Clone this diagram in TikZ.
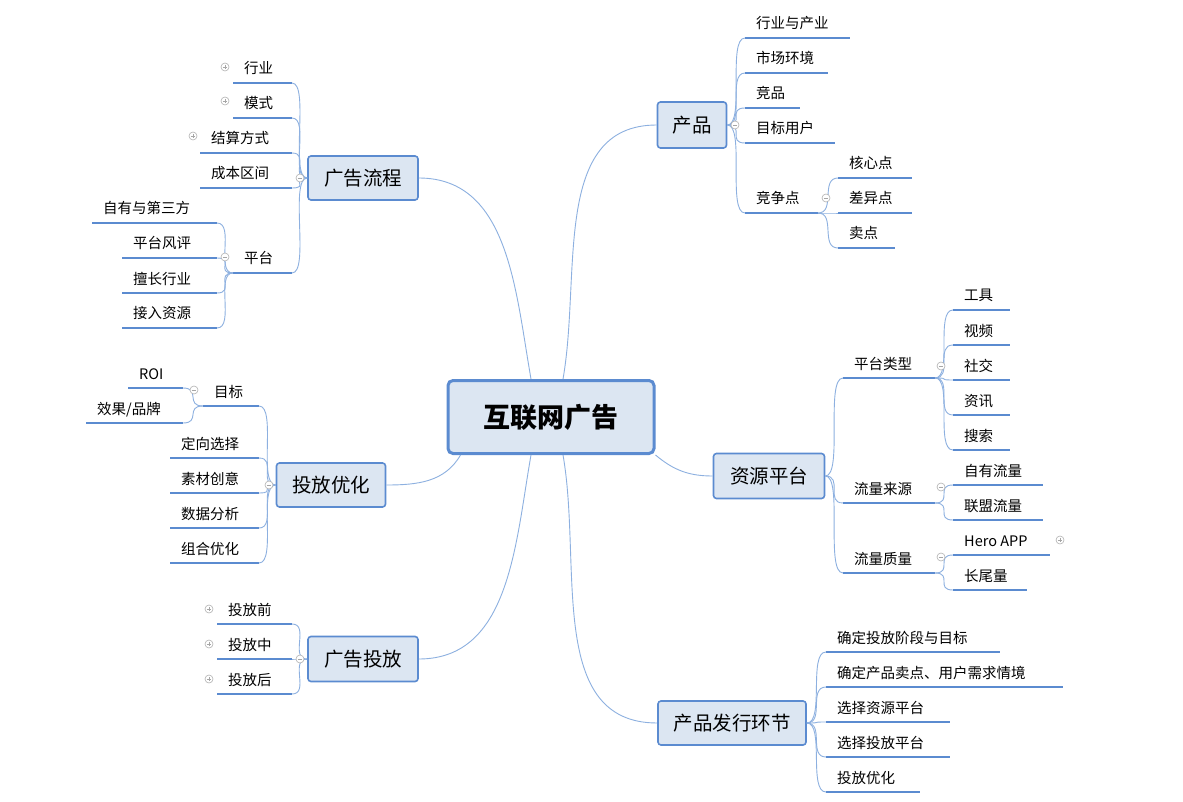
\documentclass[tikz,border=0pt]{standalone}
\usepackage{fontspec}
\setmainfont{Noto Sans CJK SC}
\usetikzlibrary{calc}
\definecolor{mapblue}{HTML}{5B8BD0}
\definecolor{mapfill}{HTML}{DCE6F2}
\definecolor{mapline}{HTML}{8DB0E0}
\tikzset{leafline/.style={mapblue,line width=2.4pt},
         leaftext/.style={inner sep=0pt,font=\fontsize{14.5}{15}\selectfont},
         topic/.style={draw=mapblue,fill=mapfill,rounded corners=3pt,line width=1.6pt,
                       font=\fontsize{19.5}{20}\selectfont,inner sep=0pt},
         conn/.style={mapline,line width=0.9pt},
         marker/.style={circle,draw=gray!60,fill=white,line width=0.6pt,minimum size=8pt,inner sep=0pt}}
% leaf: name, x start, x end, y, text
\newcommand\leaf[5]{%
  \coordinate (#1-s) at (#2,#4); \coordinate (#1-e) at (#3,#4);
  \draw[leafline] (#1-s) -- (#1-e);
  \node[leaftext,anchor=base west] (#1) at (#2+11,#4-9) {#5};}
\newcommand\conR[2]{\draw[conn] (#1) .. controls +(18,0) and +(-18,0) .. (#2);}
\newcommand\conL[2]{\draw[conn] (#1) .. controls +(-18,0) and +(18,0) .. (#2);}
\newcommand\minusmark[2]{\node[marker] at (#1,#2) {}; \draw[gray!70,line width=0.5pt] (#1-2.2,#2) -- (#1+2.2,#2);}
\newcommand\plusmark[2]{\minusmark{#1}{#2}\draw[gray!70,line width=0.5pt] (#1,#2-2.2) -- (#1,#2+2.2);}
\begin{document}
\begin{tikzpicture}[x=1pt,y=-1pt]
  \useasboundingbox[fill=white] (0,0) rectangle (1183,802);
  % centre and topics
  \node[topic,minimum width=206pt,minimum height=73pt,line width=3pt,rounded corners=5pt,
        font=\fontsize{27}{28}\selectfont\bfseries] (root) at (551,417) {互联网广告};
  \node[topic,minimum width=69pt,minimum height=46pt] (prod) at (692,125) {产品};
  \node[topic,minimum width=111pt,minimum height=45pt] (res) at (769,476) {资源平台};
  \node[topic,minimum width=148pt,minimum height=44pt] (pub) at (732,723) {产品发行环节};
  \node[topic,minimum width=110pt,minimum height=44pt] (flow) at (363,178) {广告流程};
  \node[topic,minimum width=109pt,minimum height=44pt] (opt) at (331,485) {投放优化};
  \node[topic,minimum width=110pt,minimum height=45pt] (run) at (363,659) {广告投放};
  \draw[conn] ($(root.north)+(12,0)$) to[out=80,in=180] (prod.west);
  \draw[conn] ($(root.north)+(-20,0)$) to[out=100,in=0] (flow.east);
  \draw[conn] ($(root.south east)+(0,0)$) to[out=-40,in=180] (res.west);
  \draw[conn] ($(root.south)+(12,0)$) to[out=-80,in=180] (pub.west);
  \draw[conn] ($(root.south)+(-20,0)$) to[out=-100,in=0] (run.east);
  \draw[conn] ($(root.south west)+(14,0)$) to[out=-120,in=0] (opt.east);
  % 产品
  \leaf{p1}{745}{850}{38}{行业与产业}
  \leaf{p2}{745}{828}{73}{市场环境}
  \leaf{p3}{745}{800}{108}{竞品}
  \leaf{p4}{745}{835}{143}{目标用户}
  \leaf{p5}{745}{818}{213}{竞争点}
  \foreach \c in {p1,p2,p3,p4,p5} {\conR{prod.east}{\c-s}}
  \leaf{p51}{838}{912}{178}{核心点}
  \leaf{p52}{838}{912}{213}{差异点}
  \leaf{p53}{838}{895}{248}{卖点}
  \foreach \c in {p51,p52,p53} {\conR{p5-e}{\c-s}}
  \minusmark{735}{125} \minusmark{826}{198}
  % 资源平台
  \leaf{r1}{843}{935}{378}{平台类型}
  \leaf{r2}{843}{935}{503}{流量来源}
  \leaf{r3}{843}{935}{573}{流量质量}
  \foreach \c in {r1,r2,r3} {\conR{res.east}{\c-s}}
  \leaf{r11}{953}{1010}{310}{工具}
  \leaf{r12}{953}{1010}{345}{视频}
  \leaf{r13}{953}{1010}{380}{社交}
  \leaf{r14}{953}{1010}{415}{资讯}
  \leaf{r15}{953}{1010}{450}{搜索}
  \foreach \c in {r11,r12,r13,r14,r15} {\conR{r1-e}{\c-s}}
  \leaf{r21}{953}{1043}{485}{自有流量}
  \leaf{r22}{953}{1043}{520}{联盟流量}
  \foreach \c in {r21,r22} {\conR{r2-e}{\c-s}}
  \leaf{r31}{953}{1050}{555}{Hero APP}
  \leaf{r32}{953}{1027}{590}{长尾量}
  \foreach \c in {r31,r32} {\conR{r3-e}{\c-s}}
  \minusmark{941}{366} \minusmark{941}{487} \minusmark{941}{557} \plusmark{1060}{540}
  % 产品发行环节
  \leaf{b1}{826}{1000}{652}{确定投放阶段与目标}
  \leaf{b2}{826}{1063}{687}{确定产品卖点、用户需求情境}
  \leaf{b3}{826}{950}{722}{选择资源平台}
  \leaf{b4}{826}{950}{757}{选择投放平台}
  \leaf{b5}{826}{920}{792}{投放优化}
  \foreach \c in {b1,b2,b3,b4,b5} {\conR{pub.east}{\c-s}}
  % 广告流程
  \leaf{f1}{233}{292}{83}{行业}
  \leaf{f2}{233}{292}{118}{模式}
  \leaf{f3}{200}{292}{153}{结算方式}
  \leaf{f4}{200}{292}{188}{成本区间}
  \leaf{f5}{233}{292}{273}{平台}
  \foreach \c in {f1,f2,f3,f4,f5} {\conL{flow.west}{\c-e}}
  \leaf{f51}{92}{217}{223}{自有与第三方}
  \leaf{f52}{122}{217}{258}{平台风评}
  \leaf{f53}{122}{217}{293}{擅长行业}
  \leaf{f54}{122}{217}{328}{接入资源}
  \foreach \c in {f51,f52,f53,f54} {\conL{f5-s}{\c-e}}
  \minusmark{300}{178} \minusmark{225}{257}
  \plusmark{225}{67} \plusmark{225}{101} \plusmark{193}{136}
  % 投放优化
  \leaf{o1}{203}{259}{406}{目标}
  \leaf{o2}{170}{259}{458}{定向选择}
  \leaf{o3}{170}{259}{493}{素材创意}
  \leaf{o4}{170}{259}{528}{数据分析}
  \leaf{o5}{170}{259}{563}{组合优化}
  \foreach \c in {o1,o2,o3,o4,o5} {\conL{opt.west}{\c-e}}
  \leaf{o11}{128}{183}{388}{ROI}
  \leaf{o12}{86}{183}{423}{效果/品牌}
  \foreach \c in {o11,o12} {\conL{o1-s}{\c-e}}
  \minusmark{269}{485} \minusmark{194}{390}
  % 广告投放
  \leaf{t1}{217}{292}{624}{投放前}
  \leaf{t2}{217}{292}{659}{投放中}
  \leaf{t3}{217}{292}{694}{投放后}
  \foreach \c in {t1,t2,t3} {\conL{run.west}{\c-e}}
  \minusmark{300}{659}
  \plusmark{209}{609} \plusmark{209}{644} \plusmark{209}{679}
\end{tikzpicture}
\end{document}
